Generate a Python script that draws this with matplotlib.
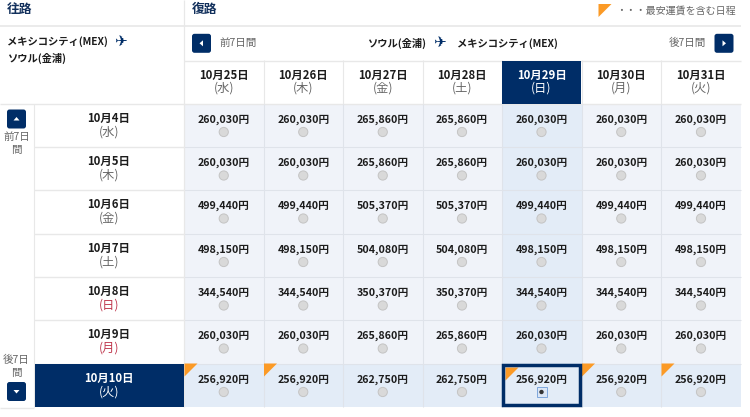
import matplotlib
matplotlib.use('Agg')
import matplotlib.pyplot as plt
from matplotlib.patches import Rectangle, Polygon, Circle, FancyBboxPatch

plt.rcParams['font.family'] = ['Noto Sans CJK JP', 'DejaVu Sans']

# --- data ---
return_days = ['10月25日', '10月26日', '10月27日', '10月28日', '10月29日', '10月30日', '10月31日']
return_weekdays = ['(水)', '(木)', '(金)', '(土)', '(日)', '(月)', '(火)']
out_days = ['10月4日', '10月5日', '10月6日', '10月7日', '10月8日', '10月9日', '10月10日']
out_weekdays = ['(水)', '(木)', '(金)', '(土)', '(日)', '(月)', '(火)']

fares_oct04 = [260030, 260030, 265860, 265860, 260030, 260030, 260030]
fares_oct05 = [260030, 260030, 265860, 265860, 260030, 260030, 260030]
fares_oct06 = [499440, 499440, 505370, 505370, 499440, 499440, 499440]
fares_oct07 = [498150, 498150, 504080, 504080, 498150, 498150, 498150]
fares_oct08 = [344540, 344540, 350370, 350370, 344540, 344540, 344540]
fares_oct09 = [260030, 260030, 265860, 265860, 260030, 260030, 260030]
fares_oct10 = [256920, 256920, 262750, 262750, 256920, 256920, 256920]
fares = [fares_oct04, fares_oct05, fares_oct06, fares_oct07, fares_oct08, fares_oct09, fares_oct10]

# --- layout, in reference pixels ---
col_edges = [184, 263.5, 343, 422.5, 501.5, 581.5, 661, 741]
row_edges = [103.5, 147, 190, 233.5, 277, 320, 363.5, 407]
sel_col = 4
sel_row = 6
red_rows = (4, 5)  # holiday rows have a red weekday

NAVY = '#002d67'
TEXT = '#1c1c1c'
GREY = '#666666'
RED = '#c0394f'
LINE = '#e8e8e8'
CELL_LINE = '#dfe3ea'
CELL = '#f0f3f9'
CELL_HI = '#e3ecf7'
ORANGE = '#fb9a26'

fig = plt.figure(figsize=(7.5, 4.17), dpi=100)
ax = fig.add_axes([0, 0, 1, 1])
ax.set_xlim(0, 750)
ax.set_ylim(417, 0)
ax.axis('off')


def hline(y, x0=0, x1=741, color=LINE, lw=1.0):
    ax.plot([x0, x1], [y, y], color=color, lw=lw, solid_capstyle='butt', zorder=2)


def vline(x, y0, y1, color=LINE, lw=0.8):
    ax.plot([x, x], [y0, y1], color=color, lw=lw, solid_capstyle='butt', zorder=2)


def nav_button(cx, cy, pts):
    ax.add_patch(FancyBboxPatch((cx - 9.5, cy - 9.5), 19, 19, boxstyle='round,pad=0,rounding_size=2.5',
                                fc=NAVY, ec='none', zorder=3))
    ax.add_patch(Polygon([(cx + a, cy + b) for a, b in pts], fc='white', ec='none', zorder=4))


# grid cells
for r in range(7):
    for c in range(7):
        hi = (c == sel_col) or (r == sel_row)
        ax.add_patch(Rectangle((col_edges[c], row_edges[r]), col_edges[c + 1] - col_edges[c],
                               row_edges[r + 1] - row_edges[r],
                               fc=CELL_HI if hi else CELL, ec='none', zorder=1))

# header lines
hline(26, lw=1.2)
hline(60.5, x0=184)
hline(103.5)
for y in row_edges[1:-1]:
    hline(y, x0=34, x1=184)
    hline(y, x0=184, color=CELL_LINE, lw=0.8)
hline(407.5, x0=0, x1=34)
vline(184, 0, 407, lw=0.9)
vline(34, 104, 407)
for x in col_edges[1:-1]:
    vline(x, 60, 104)
    vline(x, 104, 407, color=CELL_LINE)

# section headers
ax.text(7, 9, '往路', fontsize=9.2, fontweight='bold', color='#12305c', ha='left', va='center')
ax.text(192, 9, '復路', fontsize=9.2, fontweight='bold', color='#12305c', ha='left', va='center')

# legend at top right
ax.add_patch(Polygon([(598.5, 4), (611.5, 4), (598.5, 17)], fc=ORANGE, ec='none', zorder=3))
ax.text(616, 11, '・・・最安運賃を含む日程', fontsize=7.2, color=GREY, ha='left', va='center')

# route on the left
ax.text(7, 42, 'メキシコシティ(MEX)', fontsize=7.4, fontweight='bold', color=TEXT, ha='left', va='center')
ax.text(120, 41.5, '✈', fontsize=11, color=NAVY, ha='center', va='center', family='DejaVu Sans')
ax.text(7, 58, 'ソウル(金浦)', fontsize=7.4, fontweight='bold', color=TEXT, ha='left', va='center')

# route / paging bar on the right
nav_button(201.5, 43.3, [(-2, 0), (1.5, -3), (1.5, 3)])
ax.text(219, 43, '前7日間', fontsize=7.6, color=GREY, ha='left', va='center')
ax.text(367, 43.5, 'ソウル(金浦)', fontsize=7.4, fontweight='bold', color=TEXT, ha='left', va='center')
ax.text(439.5, 43, '✈', fontsize=11, color=NAVY, ha='center', va='center', family='DejaVu Sans')
ax.text(457, 43.5, 'メキシコシティ(MEX)', fontsize=7.4, fontweight='bold', color=TEXT, ha='left', va='center')
ax.text(706, 42.5, '後7日間', fontsize=7.6, color=GREY, ha='right', va='center')
nav_button(724, 43.3, [(2, 0), (-1.5, -3), (-1.5, 3)])

# return date headers
for c in range(7):
    x0, x1 = col_edges[c], col_edges[c + 1]
    xc = (x0 + x1) / 2
    selected = c == sel_col
    if selected:
        ax.add_patch(Rectangle((x0 + 0.5, 60.5), x1 - x0 - 1, 43, fc=NAVY, ec='none', zorder=3))
    ax.text(xc, 75, return_days[c], fontsize=8.2, fontweight='bold',
            color='white' if selected else TEXT, ha='center', va='center', zorder=4)
    ax.text(xc, 88.5, return_weekdays[c], fontsize=8.8,
            color='white' if selected else GREY, ha='center', va='center', zorder=4)

# outbound date labels
for r in range(7):
    y0, y1 = row_edges[r], row_edges[r + 1]
    yc = (y0 + y1) / 2
    selected = r == sel_row
    if selected:
        ax.add_patch(Rectangle((34.5, y0), 149.5, y1 - y0, fc=NAVY, ec='none', zorder=3))
    wd_color = 'white' if selected else (RED if r in red_rows else GREY)
    ax.text(109, yc - 7, out_days[r], fontsize=8.2, fontweight='bold',
            color='white' if selected else TEXT, ha='center', va='center', zorder=4)
    ax.text(109, yc + 6.5, out_weekdays[r], fontsize=8.8, color=wd_color, ha='center', va='center', zorder=4)

# paging on the left
nav_button(16.5, 119, [(0, -2), (-3, 1.5), (3, 1.5)])
ax.text(16.5, 137, '前7日', fontsize=7.6, color=GREY, ha='center', va='center')
ax.text(16.5, 150, '間', fontsize=7.6, color=GREY, ha='center', va='center')
ax.text(16.5, 359.5, '後7日', fontsize=7.6, color=GREY, ha='center', va='center')
ax.text(16.5, 373, '間', fontsize=7.6, color=GREY, ha='center', va='center')
nav_button(16.5, 391.5, [(0, 2), (-3, -1.5), (3, -1.5)])

# fares and radio buttons
for r, row in enumerate(fares):
    y0, y1 = row_edges[r], row_edges[r + 1]
    for c, fare in enumerate(row):
        x0, x1 = col_edges[c], col_edges[c + 1]
        xc = (x0 + x1) / 2
        ax.text(xc, y0 + 16, f'{fare:,}円', fontsize=7.7, fontweight='bold', color=TEXT,
                ha='center', va='center', zorder=5)
        if not (r == sel_row and c == sel_col):
            ax.add_patch(Circle((xc, y0 + 28.5), 4.6, fc='#d9d9d9', ec='#c4c4c4', lw=0.7, zorder=5))

# cheapest-fare flags on the bottom row
cheapest = min(fares[sel_row])
for c, fare in enumerate(fares[sel_row]):
    if fare == cheapest and c != sel_col:
        x0 = col_edges[c] + 0.5
        y0 = row_edges[sel_row]
        ax.add_patch(Polygon([(x0, y0), (x0 + 13, y0), (x0, y0 + 13)], fc=ORANGE, ec='none', zorder=4))

# selected cell
sx0, sx1 = col_edges[sel_col], col_edges[sel_col + 1]
sy0, sy1 = row_edges[sel_row], row_edges[sel_row + 1]
ax.add_patch(Polygon([(sx0 + 4, sy0 + 4), (sx0 + 17, sy0 + 4), (sx0 + 4, sy0 + 17)],
                     fc=ORANGE, ec='none', zorder=6))
ax.add_patch(Rectangle((sx0 + 1.7, sy0 + 1.7), sx1 - sx0 - 3.4, sy1 - sy0 - 3.4, fc='none', ec=NAVY, lw=2.5, zorder=6))
sel_x = (sx0 + sx1) / 2
sel_y = sy0 + 28.5
ax.add_patch(Rectangle((sel_x - 5, sel_y - 5), 10, 10, fc='#dbe6f5', ec='#7ea6dc', lw=0.7, zorder=6))
ax.add_patch(Circle((sel_x, sel_y), 2.2, fc='#333333', ec='none', zorder=7))

fig.savefig('out.png', dpi=100)
